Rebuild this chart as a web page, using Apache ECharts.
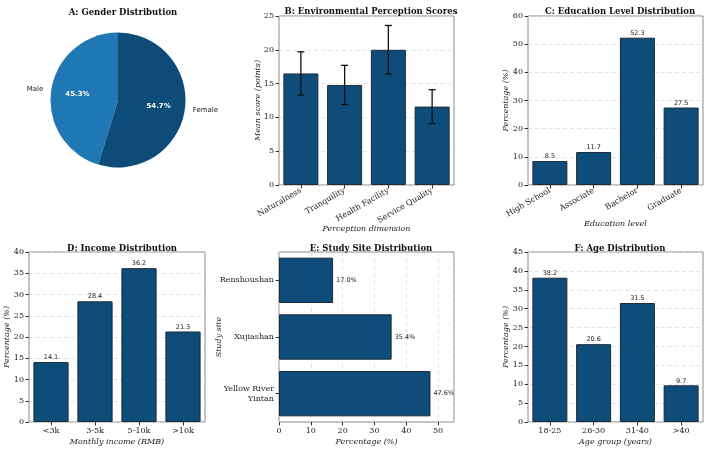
<!DOCTYPE html>
<html>
<head>
<meta charset="utf-8">
<script src="https://cdn.jsdelivr.net/npm/echarts@6/dist/echarts.min.js"></script>
<style>
  html, body { margin: 0; padding: 0; background: #fff; }
  #chart { width: 708px; height: 451px; }
</style>
</head>
<body>
<div id="chart"></div>
<script>
// --- data ---
const genderLabels = ['Male', 'Female'];
const genderValues = [45.3, 54.7];

const perceptionCats = ['Naturalness', 'Tranquility', 'Health Facility', 'Service Quality'];
const perceptionMeans = [16.5, 14.8, 20.0, 11.6];
const perceptionErrors = [3.2, 2.9, 3.6, 2.5];

const educationCats = ['High School', 'Associate', 'Bachelor', 'Graduate'];
const educationValues = [8.5, 11.7, 52.3, 27.5];

const incomeCats = ['<3k', '3-5k', '5-10k', '>10k'];
const incomeValues = [14.1, 28.4, 36.2, 21.3];

// bottom to top
const siteCats = ['Yellow River\nYintan', 'Xujiashan', 'Renshoushan'];
const siteValues = [47.6, 35.4, 17.0];

const ageCats = ['18-25', '26-30', '31-40', '>40'];
const ageValues = [38.2, 20.6, 31.5, 9.7];

const chart = echarts.init(document.getElementById('chart'), null, { renderer: 'canvas' });

const SERIF = 'DejaVu Serif';
const SANS = 'DejaVu Sans';
const BAR = '#0e4d7a';
const EDGE = '#1b2b3a';

// grid boxes: B, C, D, E, F
const grids = [
  { left: 279, top: 16, width: 175, height: 169 },
  { left: 528, top: 16, width: 175, height: 169 },
  { left: 29, top: 252, width: 176, height: 170 },
  { left: 279, top: 252, width: 175, height: 170 },
  { left: 528, top: 252, width: 175, height: 170 },
].map(g => Object.assign(g, { show: true, borderColor: '#8a8a8a', borderWidth: 1, backgroundColor: 'transparent' }));

const splitLine = { show: true, lineStyle: { color: '#dcdcdc', type: [4, 3], width: 0.8 } };
const tick = { show: true, length: 3.5, lineStyle: { color: '#333' } };
const nameStyle = { fontFamily: SERIF, fontStyle: 'italic', fontSize: 8, color: '#222' };
const labelStyle = { fontFamily: SERIF, fontSize: 8, color: '#222' };

function catAxis(idx, data, name, rotate, gap) {
  return {
    type: 'category', gridIndex: idx, data: data,
    name: name, nameLocation: 'middle', nameGap: gap, nameMoveOverlap: false, nameTextStyle: nameStyle,
    axisLine: { show: false }, axisTick: Object.assign({ alignWithLabel: true }, tick),
    axisLabel: Object.assign({ rotate: rotate, margin: 5 }, labelStyle),
  };
}
function valAxis(idx, max, interval, name, gap) {
  return {
    type: 'value', gridIndex: idx, min: 0, max: max, interval: interval,
    name: name, nameLocation: 'middle', nameGap: gap, nameMoveOverlap: false, nameTextStyle: nameStyle,
    axisLine: { show: false }, axisTick: tick, splitLine: splitLine,
    axisLabel: Object.assign({ margin: 5, showMaxLabel: max % interval === 0 }, labelStyle),
  };
}
function barSeries(idx, values, labelFmt, pos) {
  return {
    type: 'bar', xAxisIndex: idx, yAxisIndex: idx, data: values,
    barCategoryGap: '20%',
    itemStyle: { color: BAR, borderColor: EDGE, borderWidth: 1 },
    label: labelFmt ? {
      show: true, position: pos || 'top', distance: pos ? 3 : 1,
      fontFamily: SANS, fontSize: 6.5, color: '#222', formatter: labelFmt,
    } : { show: false },
  };
}

const title = (text, x, y) => ({
  text: text, left: x, top: y, textAlign: 'center',
  textStyle: { fontFamily: SERIF, fontWeight: 'bold', fontSize: 8.5, color: '#111' },
});

const option = {
  animation: false,
  backgroundColor: '#fff',
  title: [
    title('A: Gender Distribution', 118, 3),
    title('B: Environmental Perception Scores', 366, 2),
    title('C: Education Level Distribution', 615, 2),
    title('D: Income Distribution', 117, 239),
    title('E: Study Site Distribution', 366, 239),
    title('F: Age Distribution', 615, 239),
  ],
  grid: grids,
  xAxis: [
    catAxis(0, perceptionCats, 'Perception dimension', 30, 40),
    catAxis(1, educationCats, 'Education level', 30, 35),
    catAxis(2, incomeCats, 'Monthly income (RMB)', 0, 16),
    {
      type: 'value', gridIndex: 3, min: 0, max: 55, interval: 10,
      name: 'Percentage (%)', nameLocation: 'middle', nameGap: 16, nameMoveOverlap: false, nameTextStyle: nameStyle,
      axisLine: { show: false }, axisTick: tick,
      splitLine: splitLine,
      axisLabel: Object.assign({ margin: 5, showMaxLabel: false }, labelStyle),
    },
    catAxis(4, ageCats, 'Age group (years)', 0, 16),
  ],
  yAxis: [
    valAxis(0, 25, 5, 'Mean score (points)', 17),
    valAxis(1, 60, 10, 'Percentage (%)', 18),
    valAxis(2, 40, 5, 'Percentage (%)', 18),
    {
      type: 'category', gridIndex: 3, data: siteCats,
      name: 'Study site', nameLocation: 'middle', nameGap: 56, nameMoveOverlap: false, nameTextStyle: nameStyle,
      axisLine: { show: false }, axisTick: Object.assign({ alignWithLabel: true }, tick),
      axisLabel: Object.assign({ margin: 5, align: 'right', lineHeight: 10 }, labelStyle),
    },
    valAxis(4, 45, 5, 'Percentage (%)', 18),
  ],
  series: [
    {
      type: 'pie', center: [118, 100], radius: 67.5, startAngle: 90, clockwise: false,
      silent: true,
      data: genderLabels.map((n, i) => ({ name: n, value: genderValues[i] })),
      color: ['#1f77b4', '#0d4c78'],
      label: { show: true, position: 'outside', fontFamily: SANS, fontSize: 7, color: '#222', formatter: '{b}' },
      labelLine: { show: false, length: 3, length2: 0 },
    },
    {
      // invisible ring that only places the percentage labels at 0.6 of the radius
      type: 'pie', center: [118, 100], radius: 76, startAngle: 90, clockwise: false,
      silent: true, z: 5,
      data: genderLabels.map((n, i) => ({ name: n, value: genderValues[i] })),
      itemStyle: { color: 'rgba(0,0,0,0)' },
      label: {
        show: true, position: 'inside', fontFamily: SANS, fontWeight: 'bold', fontSize: 7, color: '#fff',
        formatter: p => p.value.toFixed(1) + '%',
      },
      labelLine: { show: false },
    },
    barSeries(0, perceptionMeans, null),
    {
      type: 'custom', xAxisIndex: 0, yAxisIndex: 0, z: 10,
      data: perceptionMeans.map((m, i) => [i, m - perceptionErrors[i], m + perceptionErrors[i]]),
      renderItem: (params, api) => {
        const lo = api.coord([api.value(0), api.value(1)]);
        const hi = api.coord([api.value(0), api.value(2)]);
        const cap = 3.5;
        const style = { stroke: '#111', lineWidth: 1.3 };
        return {
          type: 'group',
          children: [
            { type: 'line', shape: { x1: lo[0], y1: lo[1], x2: hi[0], y2: hi[1] }, style: style },
            { type: 'line', shape: { x1: lo[0] - cap, y1: lo[1], x2: lo[0] + cap, y2: lo[1] }, style: style },
            { type: 'line', shape: { x1: hi[0] - cap, y1: hi[1], x2: hi[0] + cap, y2: hi[1] }, style: style },
          ],
        };
      },
    },
    barSeries(1, educationValues, p => p.value.toFixed(1)),
    barSeries(2, incomeValues, p => p.value.toFixed(1)),
    barSeries(3, siteValues, p => p.value.toFixed(1) + '%', 'right'),
    barSeries(4, ageValues, p => p.value.toFixed(1)),
  ],
};

chart.setOption(option);
</script>
</body>
</html>
